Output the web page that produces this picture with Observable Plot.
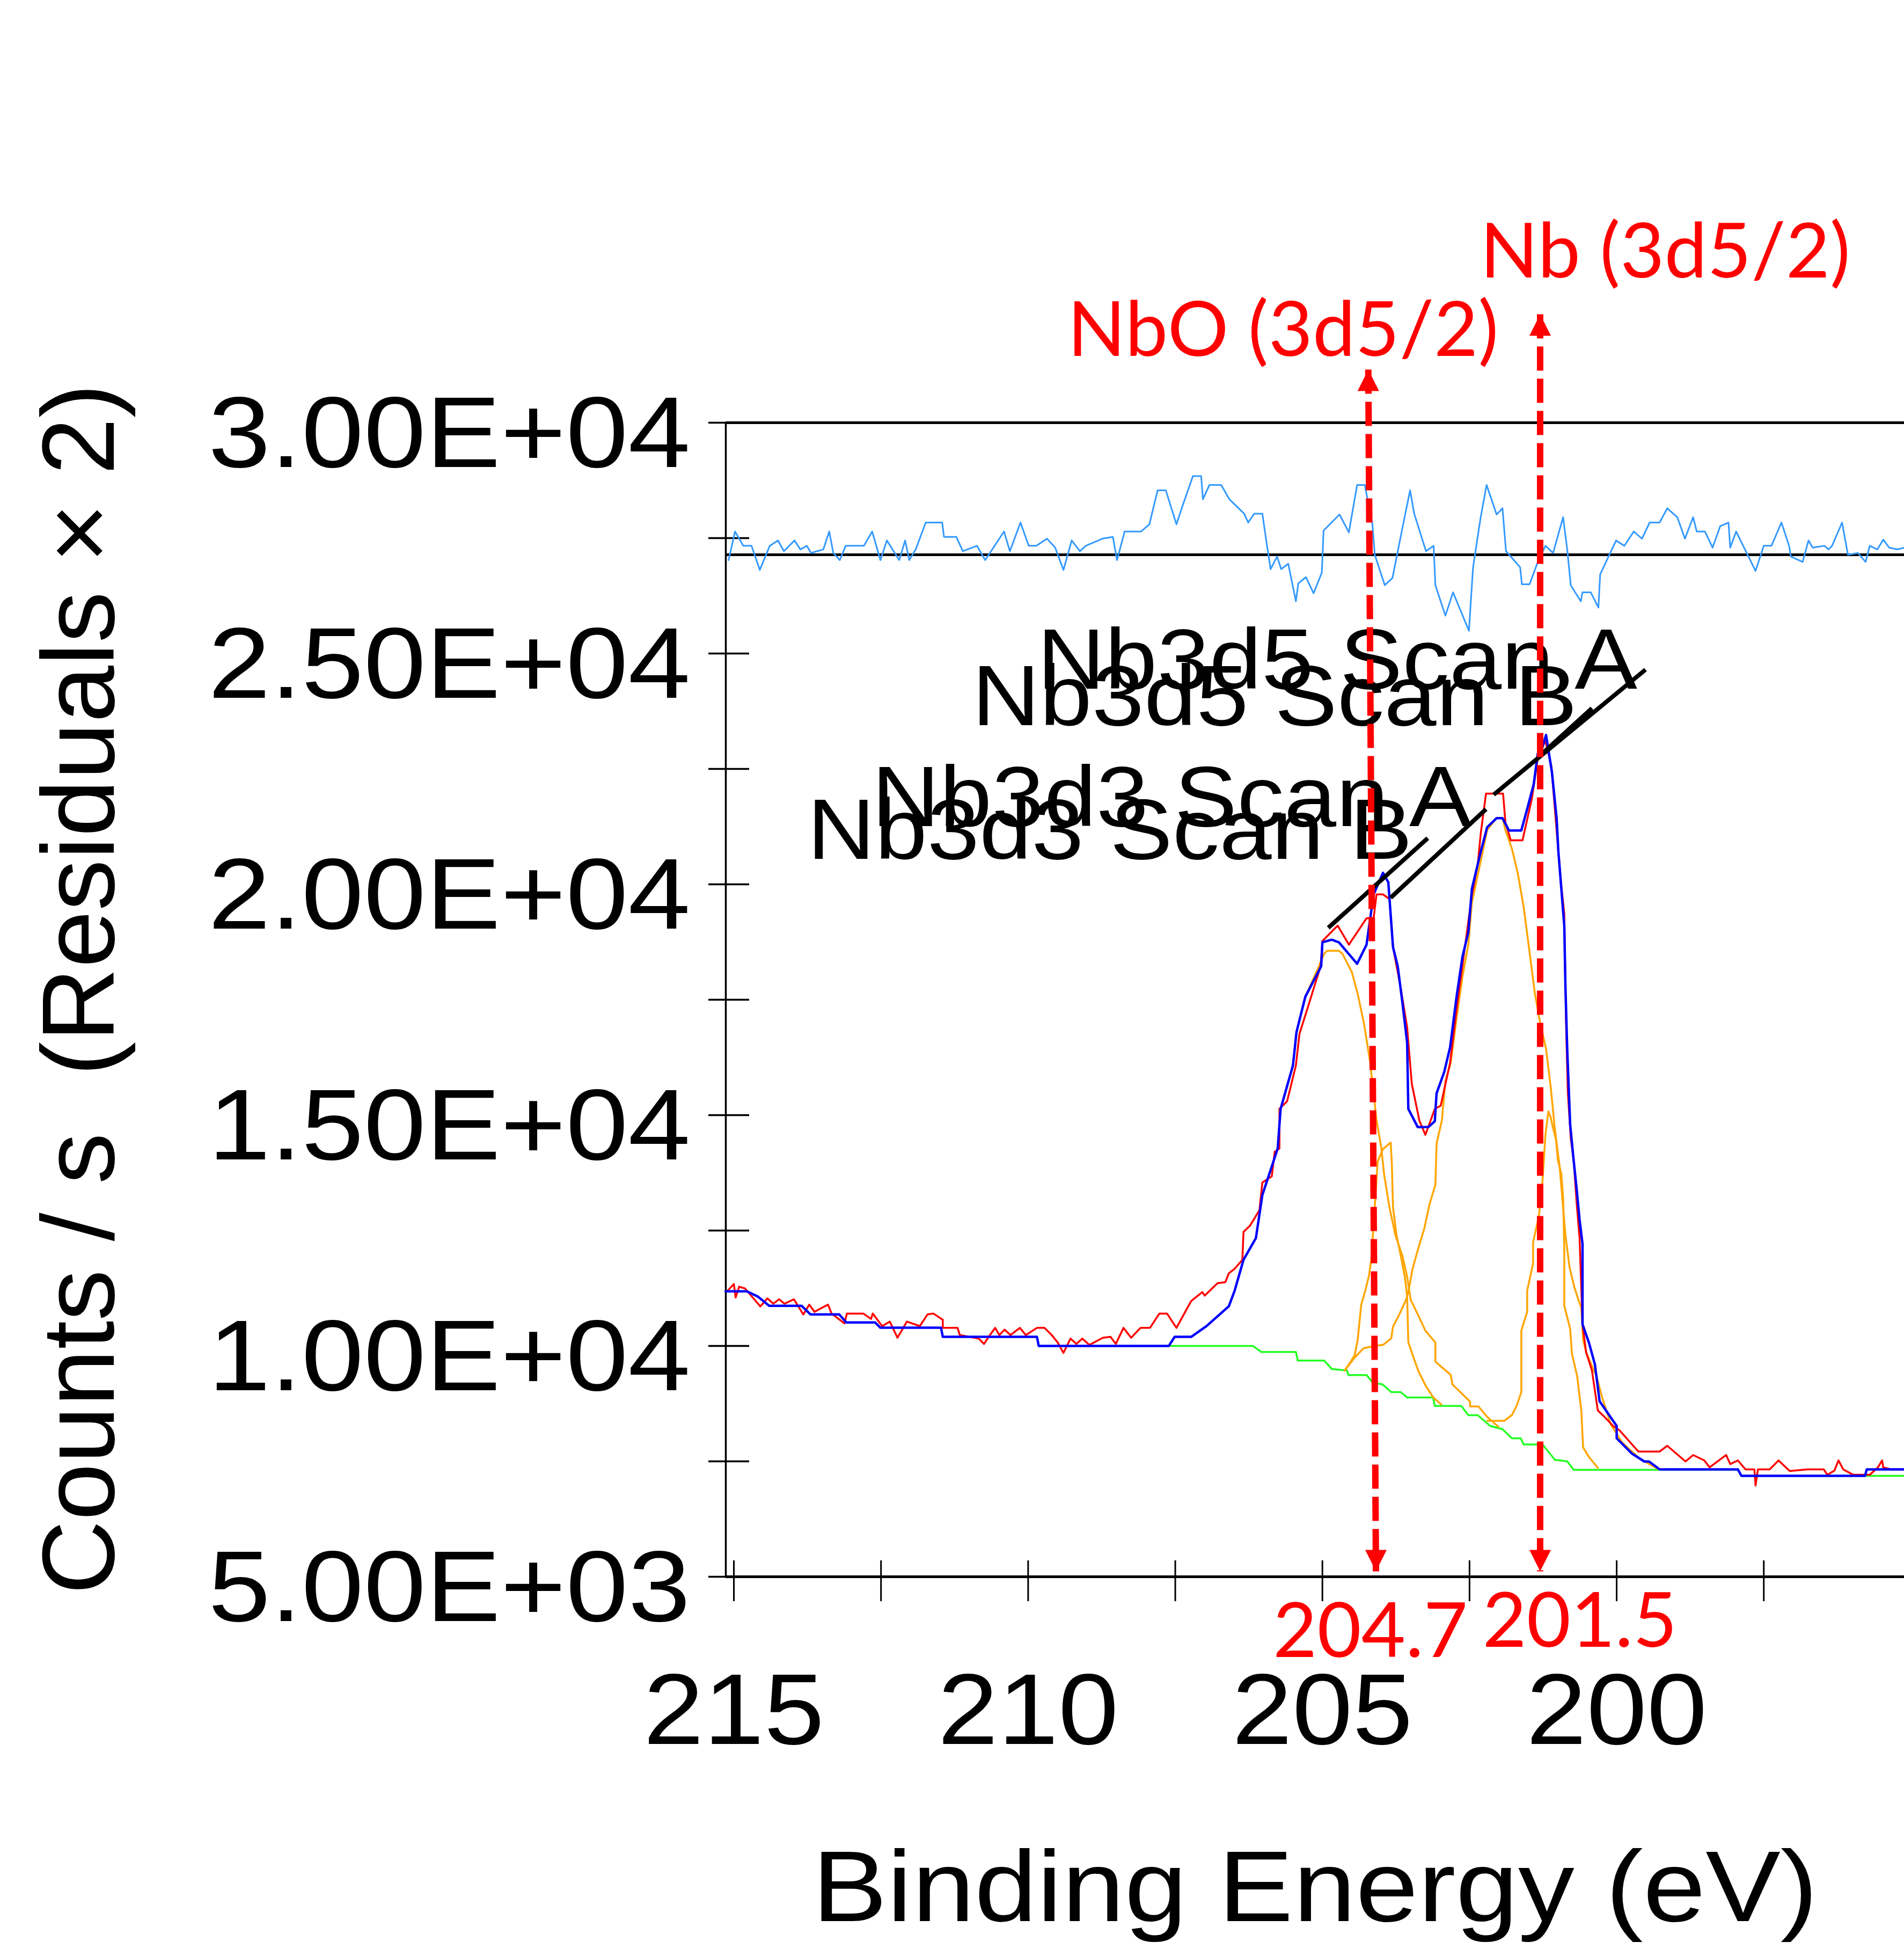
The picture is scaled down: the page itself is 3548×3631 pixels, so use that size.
<!DOCTYPE html>
<html>
<head>
<meta charset="utf-8">
<script src="https://cdn.jsdelivr.net/npm/d3@7"></script>
<script src="https://cdn.jsdelivr.net/npm/@observablehq/plot@0.6"></script>
<style>html,body{margin:0;padding:0;background:#fff;overflow:hidden}</style>
</head>
<body>
<div id="chart"></div>
<script>
// ---------- axes ----------
const xDomain = [215.137, 195.113];          // binding energy, reversed
const yDomain = [5000, 30000];               // counts / s
const xMinorTicks = [215, 212.5, 210, 207.5, 205, 202.5, 200, 197.5];
const xTickLabels = [215, 210, 205, 200];
const yMinorTicks = [5000, 7500, 10000, 12500, 15000, 17500, 20000, 22500, 25000, 27500, 30000];
const yTickLabels = [5000, 10000, 15000, 20000, 25000, 30000];
const xTitle = "Binding Energy (eV)";
const yTitle = "Counts / s\u00a0 (Residuals \u00d7 2)";
const residualBaseline = 27139;

// ---------- series: [binding energy, counts] ----------
const envelope = [
[215.14,11184],[214.78,11184],[214.59,11068],[214.40,10870],[213.85,10870],[213.70,10684],[213.21,10684],[213.09,10510],
[212.60,10510],[212.51,10394],[211.48,10394],[211.45,10197],[209.85,10197],[209.82,10000],[207.61,10000],[207.51,10197],
[207.23,10197],[206.97,10429],[206.59,10859],[206.49,11201],[206.34,11869],[206.13,12335],[206.02,13270],[205.76,14275],
[205.71,15135],[205.50,16077],[205.44,16800],[205.29,17565],[205.02,18227],[205.00,18744],[204.84,18800],[204.72,18744],
[204.41,18279],[204.25,18692],[204.13,19782],[203.97,20250],[203.88,20046],[203.80,18640],[203.72,18227],[203.64,17434],
[203.56,16566],[203.54,15135],[203.46,14938],[203.38,14740],[203.20,14740],[203.09,14868],[203.06,15472],[202.93,15937],
[202.83,16472],[202.72,17565],[202.62,18431],[202.52,18965],[202.46,19900],[202.31,20702],[202.20,21237],[202.04,21434],
[201.94,21434],[201.83,21167],[201.62,21167],[201.52,21632],[201.41,22165],[201.34,22833],[201.26,22967],[201.20,23236],
[201.15,22833],[201.10,22431],[201.02,21434],[200.99,20702],[200.94,19900],[200.89,19098],[200.87,17762],[200.84,16428],
[200.79,14803],[200.74,14136],[200.68,13403],[200.63,12735],[200.58,12206],[200.58,10468],[200.47,10067],[200.37,9602],
[200.29,8802],[200.00,8267],[200.00,8000],[199.74,7668],[199.53,7497],[199.45,7497],[199.27,7325],[197.94,7325],
[197.88,7186],[195.78,7186],[195.75,7325],[195.11,7325]
];
const dataScan = [
[215.10,11205],[215.00,11341],[214.97,11050],[214.91,11283],[214.81,11244],[214.55,10857],[214.43,11031],[214.33,10915],
[214.23,11012],[214.14,10915],[213.98,11012],[213.82,10682],[213.72,10895],[213.63,10740],[213.40,10895],[213.34,10702],
[213.12,10488],[213.08,10702],[212.80,10702],[212.67,10585],[212.64,10702],[212.48,10430],[212.35,10527],[212.22,10178],
[212.06,10527],[211.84,10430],[211.71,10682],[211.61,10702],[211.45,10566],[211.45,10391],[211.20,10391],[211.16,10236],
[210.84,10159],[210.75,10043],[210.65,10236],[210.56,10391],[210.49,10236],[210.40,10353],[210.30,10236],[210.14,10391],
[210.04,10236],[209.85,10391],[209.72,10391],[209.60,10236],[209.50,10081],[209.40,9849],[209.28,10159],[209.18,10043],
[209.08,10159],[208.96,10023],[208.73,10178],[208.60,10198],[208.51,10043],[208.38,10391],[208.25,10178],[208.09,10391],
[207.93,10391],[207.77,10702],[207.64,10702],[207.48,10391],[207.23,10973],[207.04,11167],[207.00,11089],[206.78,11360],
[206.65,11380],[206.59,11574],[206.49,11674],[206.36,11864],[206.34,12472],[206.23,12605],[206.07,12941],[206.02,13540],
[205.86,13673],[205.81,14208],[205.73,14275],[205.73,15136],[205.60,15300],[205.45,16077],[205.39,16759],[205.24,17367],
[205.03,18227],[205.00,18770],[204.74,19107],[204.55,18692],[204.25,19265],[204.13,19265],[204.08,19782],[203.97,19782],
[203.86,19680],[203.80,18640],[203.67,17762],[203.56,16898],[203.48,15670],[203.35,14873],[203.25,14573],[203.09,15136],
[202.99,15203],[202.83,16136],[202.72,17297],[202.46,19764],[202.36,20433],[202.31,21094],[202.22,21965],[201.93,21965],
[201.89,21343],[201.80,20953],[201.60,20953],[201.44,21860],[201.38,22380],[201.32,22900],[201.21,23100],[201.11,22567],
[200.99,20700],[200.94,19963],[200.89,19360],[200.86,17000],[200.83,15500],[200.78,14500],[200.73,14007],[200.68,13100],
[200.63,12335],[200.58,10468],[200.52,9870],[200.42,9467],[200.32,8603],[200.21,8467],[200.06,8267],[199.95,8170],
[199.63,7712],[199.27,7712],[199.14,7837],[198.83,7497],[198.70,7637],[198.51,7520],[198.42,7370],[198.14,7637],
[198.07,7441],[197.94,7520],[197.81,7325],[197.66,7325],[197.64,6976],[197.60,7325],[197.40,7325],[197.25,7520],
[197.06,7290],[196.76,7325],[196.48,7325],[196.42,7208],[196.30,7300],[196.23,7520],[196.15,7325],[195.98,7208],
[195.70,7208],[195.56,7370],[195.49,7520],[195.47,7370],[195.34,7325],[195.11,7325]
];
const background = [
[207.61,10000],[206.18,10000],[206.04,9870],[205.45,9870],[205.42,9684],[204.97,9684],[204.84,9500],[204.58,9467],
[204.56,9370],[204.25,9370],[204.14,9200],[203.98,9168],[203.83,9000],[203.67,9000],[203.56,8885],[203.12,8885],
[203.09,8700],[202.64,8700],[202.52,8500],[202.36,8500],[202.15,8267],[201.94,8197],[201.78,8000],[201.63,8000],
[201.58,7866],[201.26,7866],[201.05,7535],[200.84,7500],[200.73,7318],[197.94,7318],[197.88,7186],[195.11,7186]
];
const compNb3d3A = [
[207.61,10000],[207.51,10197],[207.23,10197],[206.97,10429],[206.59,10859],[206.49,11201],[206.34,11869],[206.13,12335],
[206.02,13270],[205.76,14275],[205.71,15135],[205.50,16077],[205.44,16800],[205.29,17565],[205.05,18250],[204.97,18497],
[204.92,18560],[204.72,18560],[204.66,18497],[204.50,18100],[204.40,17630],[204.29,16960],[204.19,16160],[204.12,15350],
[204.08,14885],[204.00,14300],[203.95,13700],[203.86,13000],[203.76,12400],[203.64,11950],[203.56,11500],[203.50,11000],
[203.37,10660],[203.25,10330],[203.08,10075],[203.08,9660],[202.82,9374],[202.79,9165],[202.49,8793],[202.49,8690],
[202.35,8690],[202.20,8465],[202.01,8250]
];
const compNb3d3B = [
[204.62,9470],[204.55,9600],[204.45,9800],[204.40,10136],[204.34,10895],[204.27,11205],[204.21,11515],[204.17,11864],
[204.09,13414],[204.06,14000],[203.97,14267],[203.84,14406],[203.82,13957],[203.80,13000],[203.74,12400],[203.66,11900],
[203.60,11500],[203.56,11076],[203.54,10081],[203.44,9708],[203.37,9458],[203.24,9126],[203.11,8876],[202.98,8733]
];
const compNb3d5A = [
[204.62,9470],[204.45,9750],[204.30,9950],[204.12,10000],[203.97,10023],[203.83,10163],[203.80,10420],[203.70,10663],
[203.58,10995],[203.54,11162],[203.47,11662],[203.37,12116],[203.27,12535],[203.18,13070],[203.08,13492],[203.06,14383],
[202.97,14885],[202.91,15738],[202.82,16128],[202.72,17100],[202.62,18000],[202.52,18700],[202.46,19600],[202.31,20500],
[202.20,21174],[202.04,21442],[201.94,21442],[201.89,21174],[201.78,20773],[201.68,20240],[201.58,19505],[201.47,18436],
[201.39,17640],[201.30,17000],[201.20,16435],[201.12,15600],[201.05,14700],[200.97,13900],[200.87,12400],[200.80,11700],
[200.72,11280],[200.65,11000],[200.60,10827],[200.57,10122],[200.51,9837],[200.44,9628],[200.34,9337],[200.25,8900],
[200.10,8300],[199.90,7900],[199.60,7550],[199.30,7337]
];
const compNb3d5B = [
[202.20,8378],[201.91,8378],[201.78,8503],[201.70,8700],[201.62,9000],[201.62,10330],[201.52,10745],[201.52,11203],
[201.42,11784],[201.42,12242],[201.32,12826],[201.26,13570],[201.21,14577],[201.16,15081],[201.12,14950],[201.09,14770],
[201.03,14460],[201.00,14034],[200.94,13724],[200.91,13220],[200.89,12136],[200.89,10872],[200.79,10372],[200.76,9837],
[200.67,9337],[200.60,8586],[200.57,7802],[200.47,7593],[200.32,7360]
];
// residuals: [binding energy, residual counts], drawn about residualBaseline
const residual = [
[215.09,-116],[214.98,504],[214.84,194],[214.70,194],[214.56,-329],[214.39,194],[214.25,310],[214.15,78],[213.97,310],
[213.87,116],[213.76,194],[213.69,39],[213.48,116],[213.38,504],[213.31,39],[213.20,-116],[213.10,194],[212.79,194],
[212.65,504],[212.51,-116],[212.40,310],[212.19,-116],[212.09,310],[212.02,-116],[211.91,116],[211.74,698],[211.60,698],
[211.46,698],[211.43,388],[211.22,388],[211.11,78],[210.87,194],[210.73,-116],[210.59,155],[210.41,504],[210.31,78],
[210.13,698],[209.99,194],[209.86,194],[209.68,349],[209.54,155],[209.40,-329],[209.26,310],[209.12,78],[209.02,194],
[208.74,349],[208.56,388],[208.49,-116],[208.36,504],[208.08,504],[207.94,659],[207.80,1395],[207.66,1395],[207.48,659],
[207.38,1047],[207.20,1705],[207.06,1705],[207.03,1202],[206.92,1512],[206.72,1512],[206.58,1202],[206.33,891],[206.26,698],
[206.16,891],[206.02,891],[205.95,271],[205.88,-310],[205.77,-39],[205.70,-310],[205.58,-194],[205.45,-1008],[205.41,-620],
[205.28,-485],[205.15,-833],[205.01,-388],[204.98,523],[204.71,872],[204.55,485],[204.41,1512],[204.28,1512],[204.15,659],
[204.11,0],[203.94,-659],[203.81,-504],[203.64,581],[203.51,1395],[203.44,891],[203.24,78],[203.11,194],[203.08,-659],
[202.91,-1318],[202.78,-814],[202.51,-1647],[202.44,-271],[202.31,814],[202.21,1512],[202.04,872],[201.94,1008],[201.88,78],
[201.64,-271],[201.61,-640],[201.48,-640],[201.34,-155],[201.21,194],[201.08,39],[200.91,814],[200.84,116],[200.78,-659],
[200.61,-1008],[200.58,-814],[200.44,-814],[200.31,-1143],[200.28,-426],[200.01,310],[199.87,194],[199.71,504],[199.57,349],
[199.44,698],[199.27,698],[199.14,1008],[198.97,814],[198.84,349],[198.70,814],[198.64,504],[198.50,504],[198.37,155],
[198.24,620],[198.10,698],[198.07,155],[197.97,504],[197.64,-349],[197.50,194],[197.37,194],[197.20,698],[197.07,194],
[197.04,-39],[196.84,-155],[196.74,310],[196.67,155],[196.47,194],[196.40,116],[196.34,194],[196.17,698],[196.07,0],
[195.90,39],[195.77,-155],[195.70,194],[195.57,116],[195.47,329],[195.37,155],[195.23,116],[195.11,155]
];

// ---------- peak labels (black) ----------
const peakNames = ["Nb3d5 Scan A", "Nb3d5 Scan B", "Nb3d3 Scan A", "Nb3d3 Scan B"];
const peakLineFrom = [[202.09,21942],[201.26,22837],[203.84,19709],[204.90,19058]];
const peakLineTo = [[199.51,24651],[200.42,23814],[202.22,21628],[203.21,21000]];
const peakTextAt = [[199.65,24244],[200.67,23442],[202.46,21267],[203.47,20558]];

// ---------- red annotations ----------
const arrowNames = ["NbO", "Nb"];
const arrowTop = [[204.22,31151],[201.30,32349]];
const arrowBottom = [[204.09,5116],[201.30,5116]];
const annotationText = ["NbO (3d5/2)", "Nb (3d5/2)"];
const annotationAt = [[209.33,31442],[202.32,33151]];
const valueText = ["204.7", "201.5"];
const valueAt = [[205.84,3256],[202.28,3488]];

// ---------- tables built from the arrays ----------
const components = [compNb3d3A, compNb3d3B, compNb3d5A, compNb3d5B]
  .flatMap((pts, c) => pts.map(([e, v]) => ({c, e, v})));
const peakRows = peakNames.map((name, i) => ({
  name, pe: peakLineFrom[i][0], pv: peakLineFrom[i][1],
  le: peakLineTo[i][0], lv: peakLineTo[i][1],
  te: peakTextAt[i][0], tv: peakTextAt[i][1]
}));
const arrowRows = arrowNames.map((n, i) => ({
  n, te: arrowTop[i][0], tv: arrowTop[i][1], be: arrowBottom[i][0], bv: arrowBottom[i][1]
}));
const arrowTips = arrowRows.flatMap(a => [{e: a.te, v: a.tv, rot: 0}, {e: a.be, v: a.bv, rot: 180}]);
const redLabels = annotationText.map((t, i) => ({t, e: annotationAt[i][0], v: annotationAt[i][1]}))
  .concat(valueText.map((t, i) => ({t, e: valueAt[i][0], v: valueAt[i][1]})));

const fmtE = v => {
  const [m, e] = v.toExponential(2).split("e");
  return `${m}E${e[0]}${e.slice(1).padStart(2, "0")}`;
};
const arrowHead = {
  draw(context, size) {
    const r = Math.sqrt(size / Math.PI);
    context.moveTo(0, 0);
    context.lineTo(r, 2 * r);
    context.lineTo(-r, 2 * r);
    context.closePath();
  }
};

const plot = Plot.plot({
  width: 3548,
  height: 3631,
  marginLeft: 1352,
  marginRight: 0,
  marginTop: 787,
  marginBottom: 694,
  x: {domain: xDomain},
  y: {domain: yDomain},
  style: {fontFamily: '"Liberation Sans", Arial, sans-serif', background: "#fff", overflow: "visible"},
  marks: [
    Plot.ruleX([xDomain[0]], {stroke: "#000", strokeWidth: 3.5}),
    Plot.ruleY([yDomain[1]], {stroke: "#000", strokeWidth: 5}),
    Plot.ruleY([residualBaseline], {stroke: "#000", strokeWidth: 5}),
    Plot.ruleY([yDomain[0]], {stroke: "#000", strokeWidth: 5}),
    Plot.axisY(yMinorTicks, {tickSize: 76, dx: 44, tickFormat: () => "", strokeWidth: 3.5, label: null}),
    Plot.axisX(xMinorTicks, {tickSize: 76, dy: -30, tickFormat: () => "", strokeWidth: 3, label: null}),
    Plot.line(background, {x: d => d[0], y: d => d[1], stroke: "#22ff22", strokeWidth: 3.5}),
    Plot.line(components, {x: "e", y: "v", z: "c", stroke: "#ffa500", strokeWidth: 3.5}),
    Plot.line(dataScan, {x: d => d[0], y: d => d[1], stroke: "#ff0000", strokeWidth: 3.5}),
    Plot.line(envelope, {x: d => d[0], y: d => d[1], stroke: "#0000ff", strokeWidth: 4.5}),
    Plot.line(residual, {x: d => d[0], y: d => residualBaseline + d[1], stroke: "#3399ff", strokeWidth: 3}),
    Plot.link(peakRows, {x1: "pe", y1: "pv", x2: "le", y2: "lv", stroke: "#000", strokeWidth: 8}),
    Plot.text(peakRows, {x: "te", y: "tv", text: "name", textAnchor: "end", lineAnchor: "bottom",
      fontSize: 159, fill: "#000"}),
    Plot.text(yTickLabels, {y: d => d, frameAnchor: "left", text: fmtE, textAnchor: "end", lineAnchor: "bottom",
      dx: -66, dy: 82, fontSize: 187, fill: "#000"}),
    Plot.text(xTickLabels, {x: d => d, frameAnchor: "bottom", text: d => String(d), textAnchor: "middle",
      lineAnchor: "bottom", dy: 311, fontSize: 187, fill: "#000"}),
    Plot.text([yTitle], {frameAnchor: "left", text: d => d, rotate: -90, textAnchor: "middle", lineAnchor: "middle",
      dx: -1202, dy: -20, fontSize: 191, fill: "#000"}),
    Plot.text([xTitle], {frameAnchor: "bottom", text: d => d, textAnchor: "middle", lineAnchor: "bottom",
      dy: 641, fontSize: 187, fill: "#000"}),
    Plot.link(arrowRows, {x1: "te", y1: "tv", x2: "be", y2: "bv", stroke: "#ff0000", strokeWidth: 12,
      strokeDasharray: "45,15"}),
    Plot.dot(arrowTips, {x: "e", y: "v", rotate: "rot", symbol: arrowHead, r: 20, fill: "#ff0000", stroke: "none"}),
    Plot.text(redLabels, {x: "e", y: "v", text: "t", textAnchor: "start", lineAnchor: "bottom",
      fill: "#ff0000", fontSize: 142, fontFamily: "Lato"})
  ]
});

// horizontal stretch of the wide Arial-like lettering of the original
function stretchEl(t, k) {
  let tr = t.getAttribute("transform") || "";
  const x = t.getAttribute("x"), y = t.getAttribute("y");
  if (x !== null && !/em$/.test(x)) { tr += ` translate(${x},0)`; t.removeAttribute("x"); }
  if (y !== null && !/em$/.test(y)) { tr += ` translate(0,${y})`; t.removeAttribute("y"); }
  t.setAttribute("transform", tr + ` scale(${k},1)`);
}
const yTickStrings = new Set(yTickLabels.map(fmtE));
const xTickStrings = new Set(xTickLabels.map(String));
const peakStrings = new Set(peakNames);
plot.querySelectorAll("text").forEach(t => {
  const s = t.textContent;
  if (yTickStrings.has(s)) stretchEl(t, 1.115);
  else if (xTickStrings.has(s)) stretchEl(t, 1.08);
  else if (s === xTitle) stretchEl(t, 1.12);
  else if (peakStrings.has(s)) stretchEl(t, 1.10);
});

document.getElementById("chart").append(plot);
</script>
</body>
</html>
